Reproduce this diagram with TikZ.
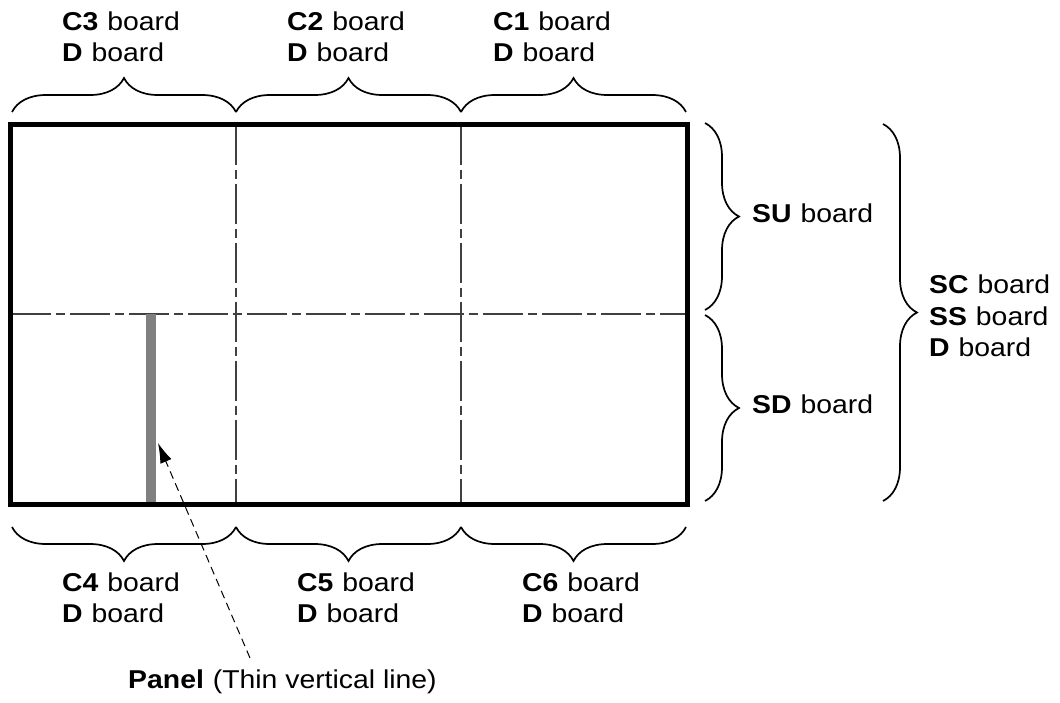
\documentclass[tikz,border=0pt]{standalone}
\usepackage{fontspec}
\setmainfont[FakeStretch=1.1]{Liberation Sans}
\usetikzlibrary{decorations.pathreplacing,arrows.meta}
\newcommand\boldlab[1]{\textbf{#1}\hspace{1pt}}
\tikzset{
  lbl/.style={anchor=base west, inner sep=0pt, font=\fontsize{25.8}{31.5}\selectfont},
  brc/.style={decorate, decoration={brace, amplitude=34pt}, line width=1.7pt},
  gridln/.style={line width=1.6pt, black!75, dash pattern=on 40pt off 5pt on 9pt off 5pt},
  frame/.style={line width=5pt, black, line join=miter},
  panelbar/.style={line width=10pt, black!50},
  pointer/.style={line width=1pt, dash pattern=on 8pt off 5pt, -{Latex[length=20pt,width=12pt]}}
}
\begin{document}
\begin{tikzpicture}[x=1pt,y=-1pt]
\useasboundingbox (0,0) rectangle (1060,702);
% corner coordinates
\coordinate (tl) at (10.5,124.5);
\coordinate (br) at (687,504.5);
\coordinate (v1t) at (236,124.5);
\coordinate (v1b) at (236,504.5);
\coordinate (v2t) at (461,124.5);
\coordinate (v2b) at (461,504.5);
\coordinate (hl) at (10.5,314);
\coordinate (hr) at (687,314);
% grid lines
\draw[gridln] (v1t) -- (v1b);
\draw[gridln] (v2t) -- (v2b);
\draw[gridln] (hl) -- (hr);
% panel bar
\coordinate (pt) at (151,314);
\coordinate (pb) at (151,502);
\draw[panelbar] (pt) -- (pb);
% frame
\draw[frame] (tl) rectangle (br);
% top braces
\coordinate (ta) at (12,112);
\coordinate (tb) at (236,112);
\coordinate (tc) at (461,112);
\coordinate (td) at (686,112);
\draw[brc] (ta) -- (tb);
\draw[brc] (tb) -- (tc);
\draw[brc] (tc) -- (td);
% bottom braces
\coordinate (ba) at (12,527);
\coordinate (bb) at (236,527);
\coordinate (bc) at (461,527);
\coordinate (bd) at (686,527);
\draw[brc] (bb) -- (ba);
\draw[brc] (bc) -- (bb);
\draw[brc] (bd) -- (bc);
% right braces
\coordinate (ra) at (705,123);
\coordinate (rb) at (705,310);
\coordinate (rc) at (705,315);
\coordinate (rd) at (705,501);
\draw[brc] (ra) -- (rb);
\draw[brc] (rc) -- (rd);
\coordinate (sa) at (883,124);
\coordinate (sb) at (883,501);
\draw[brc] (sa) -- (sb);
% top labels
\node[lbl] (c3a) at (62,30) {\boldlab{C3} board};
\node[lbl] (c3b) at (62,61.5) {\boldlab{D} board};
\node[lbl] (c2a) at (287,30) {\boldlab{C2} board};
\node[lbl] (c2b) at (287,61.5) {\boldlab{D} board};
\node[lbl] (c1a) at (493,30) {\boldlab{C1} board};
\node[lbl] (c1b) at (493,61.5) {\boldlab{D} board};
% bottom labels
\node[lbl] (c4a) at (62,591) {\boldlab{C4} board};
\node[lbl] (c4b) at (62,622.5) {\boldlab{D} board};
\node[lbl] (c5a) at (297,591) {\boldlab{C5} board};
\node[lbl] (c5b) at (297,622.5) {\boldlab{D} board};
\node[lbl] (c6a) at (522,591) {\boldlab{C6} board};
\node[lbl] (c6b) at (522,622.5) {\boldlab{D} board};
% right labels
\node[lbl] (su) at (752,222.5) {\boldlab{SU} board};
\node[lbl] (sd) at (752,413.5) {\boldlab{SD} board};
\node[lbl] (sc) at (929,293.3) {\boldlab{SC} board};
\node[lbl] (ss) at (929,325) {\boldlab{SS} board};
\node[lbl] (sdd) at (929,356.7) {\boldlab{D} board};
% panel label and pointer
\node[lbl] (panel) at (128,688) {\boldlab{Panel} (Thin vertical line)};
\coordinate (arrS) at (250,658);
\coordinate (arrE) at (158,443);
\draw[pointer] (arrS) -- (arrE);
\end{tikzpicture}
\end{document}
